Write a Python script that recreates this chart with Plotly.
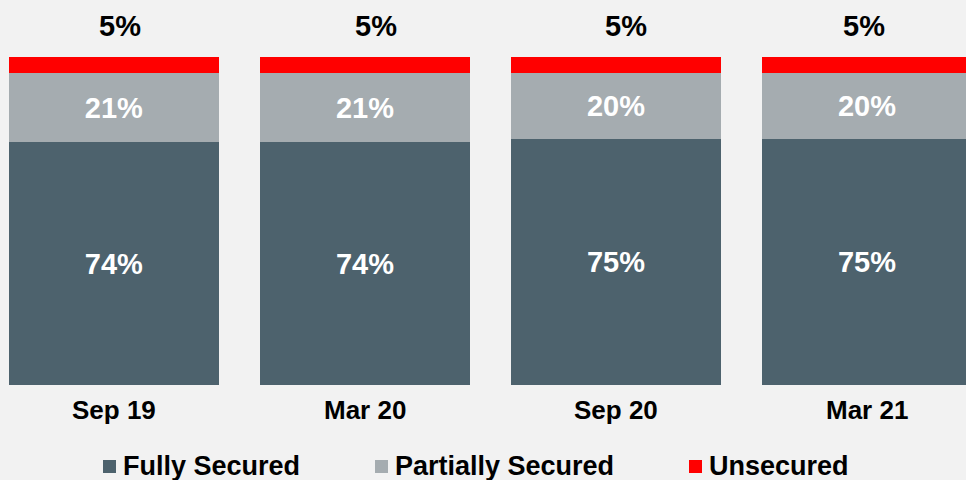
import plotly.graph_objects as go

categories = ["Sep 19", "Mar 20", "Sep 20", "Mar 21"]
fully = [74, 74, 75, 75]
partially = [21, 21, 20, 20]
unsecured = [5, 5, 5, 5]
series_names = ["Fully Secured", "Partially Secured", "Unsecured"]

dark = "#4D626D"
grey = "#A5ACB0"
red = "#FF0000"
colors = [dark, grey, red]
font = "Liberation Sans, Arial, sans-serif"
top_label_xshift = [6, 11, 10, -3]

fig = go.Figure()
fig.add_bar(x=categories, y=fully, name=series_names[0], marker_color=dark,
            text=[f"<b>{v}%</b>" for v in fully], textposition="inside", insidetextanchor="middle",
            textfont=dict(color="white", size=29, family=font))
fig.add_bar(x=categories, y=partially, name=series_names[1], marker_color=grey,
            text=[f"<b>{v}%</b>" for v in partially], textposition="inside", insidetextanchor="middle",
            textfont=dict(color="white", size=29, family=font))
fig.add_bar(x=categories, y=unsecured, name=series_names[2], marker_color=red)

fig.update_traces(selector=dict(type="bar"), marker_line_width=0, width=0.837,
                  showlegend=False, constraintext="none")

tops = [f + p + u for f, p, u in zip(fully, partially, unsecured)]
for c, t, u, xs in zip(categories, tops, unsecured, top_label_xshift):
    fig.add_annotation(x=c, y=t, text=f"<b>{u}%</b>", showarrow=False, yanchor="middle",
                       yshift=31, xshift=xs, font=dict(size=29, color="black", family=font))
for c in categories:
    fig.add_annotation(x=c, y=0, text=f"<b>{c}</b>", showarrow=False, yanchor="middle",
                       yshift=-25, font=dict(size=26, color="black", family=font))

# manual legend
legend_x = [103, 375, 689]  # square left edge in px
W, H = 966, 480
for lx, nm, col in zip(legend_x, series_names, colors):
    fig.add_shape(type="rect", xref="paper", yref="paper",
                  x0=lx / W, x1=(lx + 13) / W,
                  y0=(385 - 473) / 328, y1=(385 - 460) / 328,
                  fillcolor=col, line_width=0)
    fig.add_annotation(xref="paper", yref="paper", x=(lx + 18) / W, y=(385 - 466) / 328,
                       xanchor="left", yanchor="middle", showarrow=False,
                       text=f"<b>{nm}</b>", font=dict(size=27, color="black", family=font))

fig.update_layout(
    barmode="stack",
    width=W, height=H,
    paper_bgcolor="#F2F2F2", plot_bgcolor="#F2F2F2",
    margin=dict(l=0, r=0, t=57, b=95, autoexpand=False),
    font=dict(family=font, size=22, color="black"),
    uniformtext=dict(minsize=10, mode="show"),
    xaxis=dict(range=[-0.454, 3.394], showgrid=False, zeroline=False, showline=False,
               showticklabels=False, ticks=""),
    yaxis=dict(range=[0, 100], visible=False),
    showlegend=False,
)

fig.write_html("out.html", config={"displayModeBar": False},
               post_script="document.body.style.margin='0';document.body.style.overflow='hidden';")
